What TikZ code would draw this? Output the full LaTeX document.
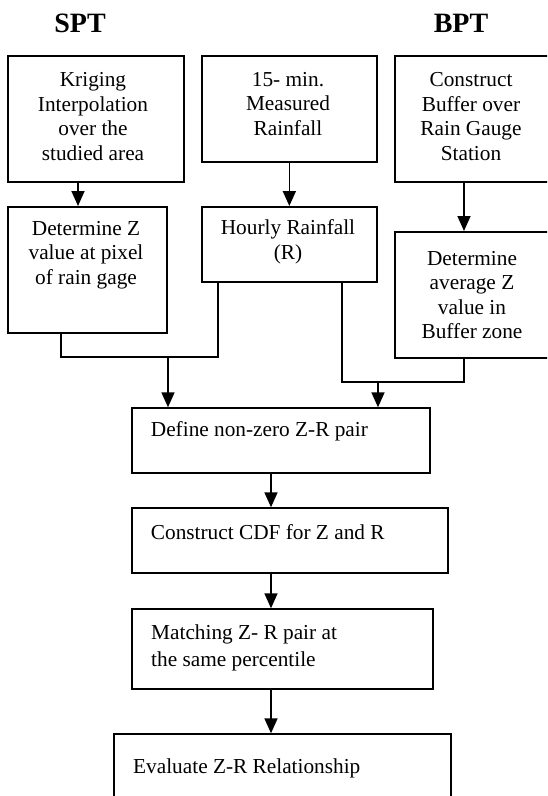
\documentclass[tikz,border=0pt]{standalone}
\usepackage{fontspec}
\setmainfont{Liberation Serif}
\usetikzlibrary{arrows.meta}
\begin{document}
\begin{tikzpicture}[x=1pt,y=-1pt,
 box/.style={draw, line width=2pt, inner sep=0pt, anchor=north west},
 txt/.style={font=\fontsize{21.3}{24.5}\selectfont, align=center, inner sep=0pt},
 ltxt/.style={font=\fontsize{21.3}{26.5}\selectfont, align=left, inner sep=0pt, anchor=west},
 head/.style={font=\fontsize{28}{30}\selectfont\bfseries, inner sep=0pt},
 conn/.style={line width=1.7pt},
 arr/.style={conn, -{Triangle[length=15pt,width=13pt]}}]
\useasboundingbox (0,0) rectangle (547,796);
\clip (0,0) rectangle (547,796);
% boxes
\node[box, minimum width=176pt, minimum height=126pt] (k1) at (7,55) {};
\node[box, minimum width=175.3pt, minimum height=105.7pt] (k2) at (200.7,55) {};
\node[box, minimum width=156pt, minimum height=126pt] (k3) at (394,55) {};
\node[box, minimum width=159pt, minimum height=125.7pt] (k4) at (7,206) {};
\node[box, minimum width=175.3pt, minimum height=75pt] (k5) at (200.7,206) {};
\node[box, minimum width=156pt, minimum height=125.7pt] (k6) at (394,231) {};
\node[box, minimum width=298.3pt, minimum height=64.4pt] (k7) at (130.7,407.3) {};
\node[box, minimum width=316pt, minimum height=65pt] (k8) at (130.7,507.3) {};
\node[box, minimum width=301pt, minimum height=80pt] (k9) at (130.7,608.3) {};
\node[box, minimum width=337.3pt, minimum height=90pt] (k10) at (112.7,733.3) {};
% texts
\node[head] (spt) at (80,23) {SPT};
\node[head] (bpt) at (461,23) {BPT};
\node[txt] (t1) at (93,116.5) {Kriging\\Interpolation\\over the\\studied area};
\node[txt] (t2) at (288,104) {15- min.\\Measured\\Rainfall};
\node[txt] (t3) at (471,116.5) {Construct\\Buffer over\\Rain Gauge\\Station};
\node[txt] (t4) at (86,255) {Determine Z\\value at pixel\\of rain gage};
\node[txt] (t5) at (288,242) {Hourly Rainfall\\(R)};
\node[txt] (t6) at (472,295) {Determine\\average Z\\value in\\Buffer zone};
\node[ltxt] (t7) at (150.7,431.7) {Define non-zero Z-R pair};
\node[ltxt] (t8) at (150.7,531.7) {Construct CDF for Z and R};
\node[ltxt] (t9) at (151,648) {Matching Z- R pair at\\the same percentile};
\node[ltxt] (t10) at (133,768) {Evaluate Z-R Relationship};
% junctions
\coordinate (j1) at (60.7,356.7);
\coordinate (j2) at (341.7,382.3);
% connectors
\draw[arr] (78,0 |- k1.south) -- (78,0 |- k4.north);
\draw[arr] (k2.south) -- (k5.north);
\draw[arr] (464,0 |- k3.south) -- (464,0 |- k6.north);
\draw[conn] (j1 |- k4.south) -- (j1) -- (218.3,356.7) -- (218.3,0 |- k5.south);
\draw[arr] (k4.south east |- j1) -- (k4.south east |- k7.north);
\draw[conn] (j2 |- k5.south) -- (j2) -- (464,382.3) -- (464,0 |- k6.south);
\draw[arr] (k5.south east |- j2) -- (k5.south east |- k7.north);
\draw[arr] (271,0 |- k7.south) -- (271,0 |- k8.north);
\draw[arr] (271,0 |- k8.south) -- (271,0 |- k9.north);
\draw[arr] (271,0 |- k9.south) -- (271,0 |- k10.north);
\end{tikzpicture}
\end{document}
